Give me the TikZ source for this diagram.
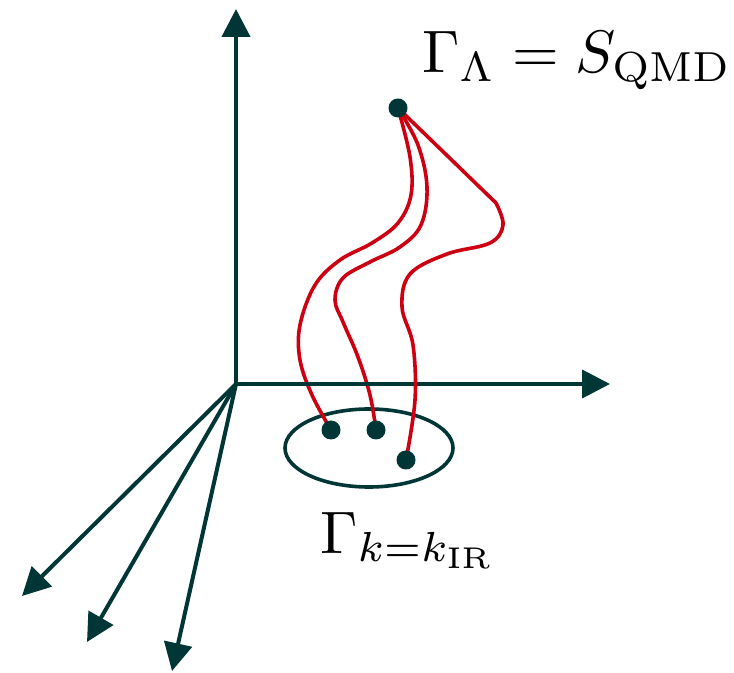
\documentclass[tikz,border=0pt]{standalone}
\usepackage{amsmath}
\usetikzlibrary{arrows.meta, shapes.geometric, backgrounds}
\definecolor{axisgreen}{RGB}{0,54,54}
\definecolor{flowred}{RGB}{204,0,17}

\begin{document}
\begin{tikzpicture}[
    x=0.5pt, y=-0.5pt,
    >={Triangle[length=14pt, width=14pt]},
    axis/.style={line width=2pt, axisgreen, ->},
    flow/.style={line width=1.8pt, flowred, line join=round},
    dot/.style={circle, fill=axisgreen, inner sep=0pt, minimum size=9.5pt},
    irset/.style={ellipse, draw=axisgreen, line width=1.8pt, minimum width=84pt, minimum height=39pt},
    lab/.style={scale=3, inner sep=0pt, anchor=base west}
]
\useasboundingbox (0,0) rectangle (734,673);

% points of theory space
\coordinate (o) at (236,384);
\node[dot] (uv) at (398,108) {};
\node[dot] (ir1) at (331,430) {};
\node[dot] (ir2) at (376,430) {};
\node[dot] (ir3) at (406,460) {};

\node[lab] (uvlab) at (421,73) {$\Gamma_\Lambda = S_{\mathrm{QMD}}$};
\node[lab] (irlab) at (319,553) {$\Gamma_{k=k_{\mathrm{IR}}}$};

\begin{scope}[on background layer]
\node[irset] (irsurf) at (369,448) {};

% flows
\draw[flow] plot[smooth, tension=0.6] coordinates {(uv) (410,157) (411,195) (398,223) (372,243) (340,260) (315,285) (300,325) (300,360) (312,395) (ir1)};
\draw[flow] plot[smooth, tension=0.6] coordinates {(uv) (418,145) (427,187) (421,225) (400,247) (370,262) (343,278) (335,300) (343,322) (358,357) (370,395) (ir2)};

% axes
\coordinate (ytip) at (236,9);
\coordinate (xtip) at (610,384);
\coordinate (t1) at (22,596);
\coordinate (t2) at (87,642);
\coordinate (t3) at (172,671);
\draw[axis] (o) -- (ytip);
\draw[axis] (o) -- (xtip);
\foreach \t in {t1,t2,t3}
  \draw[axis] (o) -- (\t);

\draw[flow] (uv.center) -- plot[smooth, tension=0.6] coordinates {(496,203) (503,225) (490,243) (447,254) (410,274) (402,307) (413,345) (415,400) (ir3)};
\end{scope}
\end{tikzpicture}
\end{document}
